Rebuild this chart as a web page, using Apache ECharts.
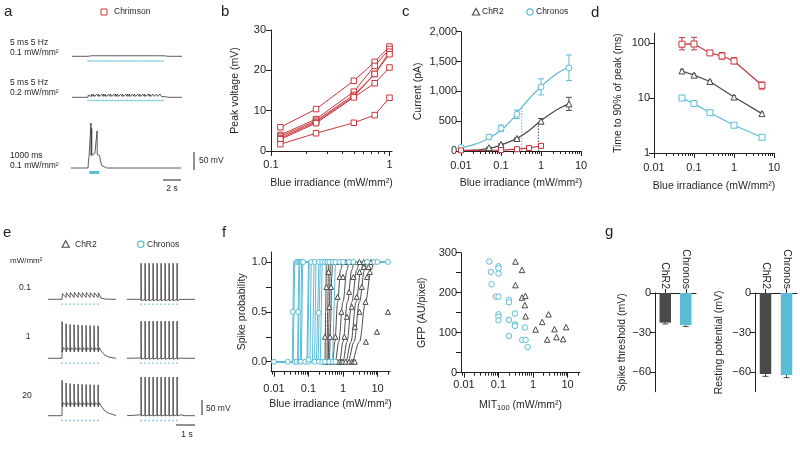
<!DOCTYPE html>
<html><head><meta charset="utf-8"><title>Chronos / ChR2 / Chrimson figure</title>
<script src="https://cdn.jsdelivr.net/npm/echarts@6/dist/echarts.min.js"></script>
<style>html,body{margin:0;padding:0;background:#fff;}#chart{width:800px;height:449px;}</style>
</head><body><div id="chart"></div>
<script>
/* ====================== DATA ====================== */
// ---- a : Chrimson current-clamp traces (mV) ----
const aRest = -65;
const aStimStart = 1.88;      // s, first 5-ms pulse
const aStimHz = 5;
const aTrain1Peaks = [4,5,6,6,5, 6,6,5,6,6, 6,5,6,6,5, 6,6,6,5,6, 6,5,6,6,6, 5,6,6,5,6, 6,5,6,6,5, 6,6,5,6,5, 6,5,6,5,5]; // 0.1 mW/mm2
const aTrain2Peaks = [6,8,9,9,8, 9,9,8,9,9, 9,8,9,9,8, 9,9,9,8,9, 9,8,9,9,9, 8,9,9,8,9, 9,8,9,9,8, 9,9,8,9,8, 9,8,9,8,8]; // 0.2 mW/mm2
const aTrain1Trough = 1.5, aTrain2Trough = 2.5;
const aLongTrace = [[0,-65],[2.0,-65],[2.05,-45],[2.12,-33],[2.3,-28],[2.33,-28],[2.34,60],[2.36,-30],[2.42,-30],[2.43,45],[2.45,-30],
  [2.6,-26],[2.8,-24],[3.0,-24],[3.05,-24],[3.06,38],[3.08,-28],[3.25,-26],[3.35,-30],[3.45,-45],[3.6,-58],[3.8,-63],[4.2,-65],[12.9,-65]];
const aLongStim = [2.15, 3.32];

// ---- b : peak voltage vs irradiance, Chrimson cells ----
const bIrr = [0.12, 0.24, 0.5, 0.75, 1.0];
const bCell1 = [5.9, 10.4, 17.4, 22.1, 25.9];
const bCell2 = [4.0, 7.9, 14.7, 21.1, 25.3];
const bCell3 = [3.6, 7.5, 13.9, 19.1, 24.6];
const bCell4 = [3.2, 7.2, 13.5, 19.1, 24.0];
const bCell5 = [2.9, 6.9, 13.3, 16.8, 20.7];
const bCell6 = [1.7, 4.4, 7.0, 8.9, 13.2];

// ---- c : photocurrent vs irradiance ----
const cChronosX = [0.01, 0.05, 0.1, 0.25, 1, 5];
const cChronosY = [60, 235, 380, 615, 1075, 1395];
const cChronosErr = [15, 35, 55, 70, 135, 215];
const cFitX = [0.01, 0.0178, 0.0316, 0.0562, 0.1, 0.178, 0.316, 0.562, 1, 1.78, 3.16, 5];
const cChronosFitY = [56, 95, 150, 235, 352, 510, 720, 910, 1078, 1225, 1340, 1400];
const cChR2X = [0.05, 0.1, 0.25, 1, 5];
const cChR2Y = [55, 110, 210, 500, 790];
const cChR2Err = [8, 10, 12, 45, 110];
const cChR2FitY = [6, 12, 25, 50, 100, 165, 250, 370, 510, 630, 730, 790];
const cChrimsonX = [0.01, 0.1, 0.25, 0.5, 1];
const cChrimsonY = [10, 15, 30, 50, 85];
const cChronosEC50 = [0.33, 732];
const cChR2EC50 = [0.86, 470];

// ---- d : time to 90% of peak ----
const dChrimsonX = [0.05, 0.1, 0.25, 0.5, 1, 5];
const dChrimsonY = [95, 96, 66, 58, 47, 17];
const dChrimsonLo = [75, 75, 62, 51, 42, 14.5];
const dChrimsonHi = [125, 127, 71, 67, 54, 19.5];
const dChR2X = [0.05, 0.1, 0.25, 1, 5];
const dChR2Y = [31, 26, 20, 10.4, 5.2];
const dChR2Lo = [29, 24.5, 19, 9.8, 4.9];
const dChR2Hi = [33, 27.5, 21, 11, 5.5];
const dChronosX = [0.05, 0.1, 0.25, 1, 5];
const dChronosY = [10, 7.9, 5.4, 3.2, 1.93];
const dChronosLo = [9.2, 7.0, 5.0, 3.0, 1.85];
const dChronosHi = [10.9, 8.8, 5.9, 3.4, 2.0];

// ---- e : ChR2 vs Chronos spike trains ----
const eRest = -65;
const ePulses = [0.7, 0.9, 1.1, 1.3, 1.5, 1.7, 1.9, 2.1, 2.3, 2.5];
const eChR2Low = [19, 22, 23, 23, 23, 22, 23, 22, 22, 22];           // EPSP amplitude (mV above rest), 0.1
const eChR2Mid = [57, 50, 48, 47, 46, 45, 45, 44, 44, 43];           // spike peaks (mV), 1
const eChR2High = [53, 44, 42, 41, 40, 40, 39, 39, 38, 38];          // 20
const eChronosLow = [55, 55, 55, 55, 55, 55, 55, 55, 55, 55];
const eChronosMid = [59, 59, 59, 59, 59, 59, 59, 59, 59, 59];
const eChronosHigh = [64, 64, 64, 64, 64, 64, 64, 64, 64, 64];

// ---- f (left) : spike probability fits ----
const fChronosSteps = [[0.034,0.037],[0.036,0.04],[0.048,0.053],[0.05,0.056],[0.058,0.063],[0.062,0.068],[0.09,0.1],
  [0.095,0.105],[0.11,0.12],[0.13,0.145],[0.15,0.165],[0.17,0.2],[0.19,0.22],[0.22,0.25],[0.5,0.6]];
const fChR2Curves = [
  [[0.25,0],[0.3,0],[0.315,0.5],[0.33,1],[0.6,1]],
  [[0.25,0],[0.34,0],[0.36,0.5],[0.38,1],[0.7,1]],
  [[0.25,0],[0.37,0],[0.4,0.5],[0.43,1],[0.8,1]],
  [[0.25,0],[0.4,0],[0.44,0.4],[0.47,0.85],[0.5,1],[1,1]],
  [[0.3,0],[0.5,0],[0.58,0.2],[0.7,0.6],[0.85,0.92],[1,1],[2,1]],
  [[0.4,0],[0.6,0],[0.75,0.2],[1.0,0.6],[1.3,0.92],[1.5,1],[3,1]],
  [[0.5,0],[0.8,0],[1.0,0.2],[1.35,0.6],[1.8,0.92],[2.1,1],[4,1]],
  [[0.6,0],[1.0,0],[1.3,0.2],[1.8,0.6],[2.5,0.92],[3,1],[5,1]],
  [[0.8,0],[1.2,0],[1.7,0.2],[2.4,0.6],[3.3,0.92],[4,1],[6,1]],
  [[1,0],[1.4,0],[2.1,0.2],[3.0,0.6],[4.2,0.92],[5,1],[8,1]],
  [[1.3,0],[1.8,0],[3.0,0.2],[4.5,0.6],[6.5,0.92],[8,1],[12,1]]
];
const fChronosPts = [[0.01,0],[0.025,0],[0.04,0],[0.045,0],[0.055,0],[0.06,0],[0.08,0],[0.1,0],[0.1,0.02],[0.15,0],[0.2,0],[0.25,0],
  [0.3,0],[0.4,0],[0.5,0],[0.6,0],[0.035,0.5],[0.05,0.5],[0.197,0.49],[0.045,1],[0.05,1],[0.055,1],[0.06,1],[0.065,1],[0.07,1],
  [0.12,1],[0.15,1],[0.2,1],[0.25,1],[0.3,1],[0.35,1],[0.4,1],[0.5,1],[0.6,1],[0.8,1],[1,1],[1.5,1],[2,1],[5,1],[8,1],[10,1],[20,1]];
const fChR2Pts = [[0.3,0],[0.35,0],[0.4,0],[0.45,0],[0.5,0],[0.6,0],[0.7,0],[0.8,0],[0.9,0],[1,0],[1.2,0],[1.5,0],[1.8,0],[2,0],[2.2,0],
  [0.3,0.25],[0.33,0.75],[0.38,0.9],[0.4,0.55],[0.42,0.25],[0.45,0.75],[0.6,0.25],[0.7,0.65],[0.8,0.85],[0.9,0.5],[1,0.85],[1.1,0.25],
  [1.3,0.45],[1.5,0.7],[1.8,0.55],[2,0.85],[2.2,0.35],[2.5,0.65],[3,0.9],[3,0.5],[3.5,0.75],[4,0.95],[4.5,0.6],[5,0.85],[5.5,0.95],
  [6,0.9],[6.5,1],[0.35,1],[0.4,1],[0.5,1],[0.6,1],[0.8,1],[1,1],[1.2,1],[1.5,1],[2,1],[3,1],[4,1],[5,1],[4.6,0.2],[9.6,0.3],[20,0.5]];

// ---- f (right) : GFP vs MIT100 ----
const fChronosMIT = [0.054,0.060,0.063,0.1,0.1,0.1,0.084,0.1,0.1,0.1,0.1,0.2,0.2,0.2,0.2,0.3,0.3,0.3,0.49,0.61,0.58,0.70];
const fChronosGFP = [278,252,221,266,261,248,190,190,146,140,131,182,176,132,92,148,121,117,82,82,113,64];
const fChR2MIT = [0.31,0.48,0.31,0.48,0.60,0.58,0.61,1.19,1.85,2.82,2.57,4.19,4.79,7.45,9.1];
const fChR2GFP = [278,257,219,188,192,169,141,108,127,146,83,109,89,84,114];

// ---- g : spike threshold & resting potential ----
const gGroups = ['ChR2', 'Chronos'];
const gThreshold = [-22.5, -24.3];
const gThresholdErr = [1.0, 1.2];
const gResting = [-61.5, -62.3];
const gRestingErr = [1.8, 2.0];

/* ====================== STYLE / LAYOUT ====================== */
const RED = '#c8363c', CYAN = '#5bbcd6', DARK = '#4a4a4a', INK = '#231f20', TRACE = '#333333';
const FONT = '"Liberation Sans", Arial, Helvetica, sans-serif';
const grid = [], xAxis = [], yAxis = [], series = [], graphic = [];

function merge(a, b) {
  const o = Object.assign({}, a);
  for (const k in b) {
    const v = b[k];
    if (v && typeof v === 'object' && !Array.isArray(v) && a[k] && typeof a[k] === 'object' && !Array.isArray(a[k])) o[k] = Object.assign({}, a[k], v);
    else o[k] = v;
  }
  return o;
}
const axisBase = {
  type: 'value',
  axisLine: { show: true, onZero: false, lineStyle: { color: INK, width: 1 } },
  axisTick: { show: true, length: 5, lineStyle: { color: INK, width: 1 } },
  axisLabel: { color: INK, fontSize: 11, fontFamily: FONT, margin: 5 },
  splitLine: { show: false },
  nameLocation: 'middle',
  nameTextStyle: { color: INK, fontSize: 10.5, fontFamily: FONT }
};
function logMinors(lo, hi) {
  const r = [];
  for (let e = -3; e <= 2; e++) for (let m = 2; m <= 9; m++) {
    const v = +(m * Math.pow(10, e)).toPrecision(3);
    if (v > lo && v < hi) r.push(v);
  }
  return r;
}
const fmtLog = v => { const n = +v; return n >= 1 ? String(Math.round(n)) : String(+n.toPrecision(2)); };
const fmtMinus = v => (+v < 0 ? '\u2212' + Math.abs(+v) : String(+v));
const fmtThousands = v => { const n = Math.round(+v); return n >= 1000 ? Math.floor(n / 1000) + ',' + String(n % 1000).padStart(3, '0') : String(n); };

function addPlot(box, xa, ya, xMinor) {
  const gi = grid.length;
  grid.push(Object.assign({ outerBoundsMode: 'none', containLabel: false }, box));
  const xi = xAxis.length;
  xAxis.push(merge(merge(axisBase, { gridIndex: gi, position: 'bottom' }), xa));
  if (xMinor) xAxis.push({ type: 'log', gridIndex: gi, position: 'bottom', min: xa.min, max: xa.max,
    axisLine: { show: false, onZero: false }, axisLabel: { show: false }, splitLine: { show: false },
    axisTick: { show: true, length: 3, customValues: xMinor, lineStyle: { color: INK, width: 1 } } });
  const yi = yAxis.length;
  yAxis.push(merge(merge(axisBase, { gridIndex: gi, position: 'left' }), ya));
  return { xi, yi };
}
function addTraceGrid(box, xr, yr) {
  const gi = grid.length;
  grid.push(Object.assign({ outerBoundsMode: 'none', containLabel: false }, box));
  const xi = xAxis.length; xAxis.push({ type: 'value', gridIndex: gi, min: xr[0], max: xr[1], show: false });
  const yi = yAxis.length; yAxis.push({ type: 'value', gridIndex: gi, min: yr[0], max: yr[1], show: false });
  return { xi, yi };
}
function lineS(ax, data, color, extra) {
  return Object.assign({ type: 'line', xAxisIndex: ax.xi, yAxisIndex: ax.yi, data, symbol: 'none', clip: false,
    lineStyle: { color, width: 1 }, silent: true }, extra || {});
}
function markS(ax, data, symbol, color, size, extra) {
  return Object.assign({ type: 'scatter', xAxisIndex: ax.xi, yAxisIndex: ax.yi, data, symbol, symbolSize: size || 5.5,
    itemStyle: { color: '#fff', borderColor: color, borderWidth: 1, opacity: 1 }, silent: true, z: 5 }, extra || {});
}
function errS(ax, data, color, cap) {   // data rows: [x, lo, hi]
  const w = cap == null ? 3 : cap;
  return { type: 'custom', xAxisIndex: ax.xi, yAxisIndex: ax.yi, data, silent: true, z: 4, clip: false,
    encode: { x: 0, y: [1, 2] },
    renderItem(params, api) {
      const x = api.value(0), p1 = api.coord([x, api.value(1)]), p2 = api.coord([x, api.value(2)]);
      const st = { stroke: color, lineWidth: 1 };
      return { type: 'group', children: [
        { type: 'line', shape: { x1: p1[0], y1: p1[1], x2: p2[0], y2: p2[1] }, style: st },
        { type: 'line', shape: { x1: p1[0] - w, y1: p1[1], x2: p1[0] + w, y2: p1[1] }, style: st },
        { type: 'line', shape: { x1: p2[0] - w, y1: p2[1], x2: p2[0] + w, y2: p2[1] }, style: st }] };
    } };
}
const zip = (xs, ys) => xs.map((x, i) => [x, ys[i]]);
const val = (a, i) => (Array.isArray(a) ? a[i] : a);

// trace builders (levels)
function epspTrain(pulses, peaks, trough, rest, tail, tEnd) {
  const d = [[0, rest]];
  pulses.forEach((p, i) => { d.push([p, i ? rest + trough : rest]); d.push([p + 0.02, rest + peaks[i]]); });
  const last = pulses[pulses.length - 1];
  tail.forEach(([dt, v]) => d.push([last + dt, rest + v]));
  d.push([tEnd, rest]);
  return d;
}
function spikeTrain(pulses, base, peaks, ahp, hump, rest, tail, tEnd) {
  const d = [[0, rest]];
  pulses.forEach((p, i) => {
    d.push([p, val(base, i)]); d.push([p + 0.005, peaks[i]]);
    d.push([p + 0.015, val(ahp, i)]); d.push([p + 0.07, val(hump, i)]);
  });
  const last = pulses[pulses.length - 1];
  tail.forEach(([dt, v]) => d.push([last + dt, v]));
  d.push([tEnd, rest]);
  return d;
}

/* ---------- panel a ---------- */
const aX = [0, 12.9], aY = [-100, 70];
const aPulses1 = aTrain1Peaks.map((_, i) => aStimStart + i / aStimHz);
const aPulses2 = aTrain2Peaks.map((_, i) => aStimStart + i / aStimHz);
const A1 = addTraceGrid({ left: 72, top: 7.7, width: 110, height: 61.2 }, aX, aY);
const A2 = addTraceGrid({ left: 72, top: 48.7, width: 110, height: 61.2 }, aX, aY);
const A3 = addTraceGrid({ left: 71, top: 119.4, width: 110, height: 61.2 }, aX, aY);
series.push(lineS(A1, epspTrain(aPulses1, aTrain1Peaks, aTrain1Trough, aRest, [[0.3, 1], [0.6, 0]], aX[1]), TRACE, { lineStyle: { color: TRACE, width: 0.8 } }));
series.push(lineS(A2, epspTrain(aPulses2, aTrain2Peaks, aTrain2Trough, aRest, [[0.3, 1.5], [0.6, 0]], aX[1]), TRACE, { lineStyle: { color: TRACE, width: 0.8 } }));
series.push(lineS(A3, aLongTrace, TRACE, { lineStyle: { color: TRACE, width: 0.8 } }));
series.push({ type: 'scatter', xAxisIndex: A1.xi, yAxisIndex: A1.yi, data: aPulses1.map(t => [t, -78]), symbol: 'rect', symbolSize: [1.4, 1.4], itemStyle: { color: CYAN }, silent: true });
series.push({ type: 'scatter', xAxisIndex: A2.xi, yAxisIndex: A2.yi, data: aPulses2.map(t => [t, -74]), symbol: 'rect', symbolSize: [1.4, 1.4], itemStyle: { color: CYAN }, silent: true });
series.push(lineS(A3, aLongStim.map(t => [t, -77.5]), CYAN, { lineStyle: { color: CYAN, width: 3 } }));

/* ---------- panel b ---------- */
const B = addPlot({ left: 271, top: 30, width: 121, height: 121 },
  { type: 'log', min: 0.1, max: 1.05, axisTick: { customValues: [0.1, 1] }, axisLabel: { customValues: [0.1, 1], formatter: fmtLog, margin: 8 },
    name: 'Blue irradiance (mW/mm\u00b2)', nameGap: 27 },
  { min: 0, max: 30, interval: 10, name: 'Peak voltage (mV)', nameGap: 30 },
  logMinors(0.1, 1.05));
[bCell1, bCell2, bCell3, bCell4, bCell5, bCell6].forEach(c => {
  series.push(lineS(B, zip(bIrr, c), RED, { symbol: 'rect', symbolSize: 5.5, showSymbol: true,
    itemStyle: { color: '#fff', borderColor: RED, borderWidth: 1 }, lineStyle: { color: RED, width: 1 } }));
});

/* ---------- panel c ---------- */
const C = addPlot({ left: 461, top: 31.7, width: 120, height: 119.3 },
  { type: 'log', min: 0.01, max: 10, axisTick: { customValues: [0.01, 0.1, 1, 10] }, axisLabel: { customValues: [0.01, 0.1, 1, 10], formatter: fmtLog, margin: 9 },
    name: 'Blue irradiance (mW/mm\u00b2)', nameGap: 27 },
  { min: 0, max: 2000, interval: 500, axisLabel: { formatter: fmtThousands, margin: 4 }, name: 'Current (pA)', nameGap: 37 },
  logMinors(0.01, 10));
series.push(lineS(C, [[cChronosEC50[0], 0], cChronosEC50], CYAN, { lineStyle: { color: CYAN, width: 1, type: [1.5, 1.5] } }));
series.push(lineS(C, [[cChR2EC50[0], 0], cChR2EC50], DARK, { lineStyle: { color: DARK, width: 1, type: [1.5, 1.5] } }));
series.push(lineS(C, zip(cFitX, cChronosFitY), CYAN, { smooth: 0.5, lineStyle: { color: CYAN, width: 1.2 } }));
series.push(lineS(C, zip(cFitX, cChR2FitY), DARK, { smooth: 0.5, lineStyle: { color: DARK, width: 1.2 } }));
series.push(lineS(C, zip(cChrimsonX, cChrimsonY), RED, { lineStyle: { color: RED, width: 1.2 } }));
series.push(errS(C, cChronosX.map((x, i) => [x, cChronosY[i] - cChronosErr[i], cChronosY[i] + cChronosErr[i]]), CYAN));
series.push(errS(C, cChR2X.map((x, i) => [x, cChR2Y[i] - cChR2Err[i], cChR2Y[i] + cChR2Err[i]]), DARK));
series.push(markS(C, zip(cChronosX, cChronosY), 'circle', CYAN, 6));
series.push(markS(C, zip(cChR2X, cChR2Y), 'triangle', DARK, 6));
series.push(markS(C, zip(cChrimsonX, cChrimsonY), 'rect', RED, 5));

/* ---------- panel d ---------- */
const D = addPlot({ left: 654, top: 33.3, width: 120, height: 119.7 },
  { type: 'log', min: 0.01, max: 10, axisTick: { customValues: [0.01, 0.1, 1, 10] }, axisLabel: { customValues: [0.01, 0.1, 1, 10], formatter: fmtLog, margin: 9 },
    name: 'Blue irradiance (mW/mm\u00b2)', nameGap: 28 },
  { type: 'log', min: 1, max: 150, axisTick: { customValues: [1, 10, 100] }, axisLabel: { customValues: [1, 10, 100], formatter: fmtLog, margin: 4 },
    name: 'Time to 90% of peak (ms)', nameGap: 30 },
  logMinors(0.01, 10));
series.push(lineS(D, zip(dChrimsonX, dChrimsonY), RED, { lineStyle: { color: RED, width: 1.2 } }));
series.push(lineS(D, zip(dChR2X, dChR2Y), DARK, { lineStyle: { color: DARK, width: 1.2 } }));
series.push(lineS(D, zip(dChronosX, dChronosY), CYAN, { lineStyle: { color: CYAN, width: 1.2 } }));
series.push(errS(D, dChrimsonX.map((x, i) => [x, dChrimsonLo[i], dChrimsonHi[i]]), RED));
series.push(errS(D, dChR2X.map((x, i) => [x, dChR2Lo[i], dChR2Hi[i]]), DARK, 2));
series.push(errS(D, dChronosX.map((x, i) => [x, dChronosLo[i], dChronosHi[i]]), CYAN, 2));
series.push(markS(D, zip(dChrimsonX, dChrimsonY), 'rect', RED, 6));
series.push(markS(D, zip(dChR2X, dChR2Y), 'triangle', DARK, 6));
series.push(markS(D, zip(dChronosX, dChronosY), 'rect', CYAN, 6));

/* ---------- panel e ---------- */
const eX = [0, 3.4], eY = [-100, 75];
const eBoxes = [257.3, 316.3, 373.7];
const E = eBoxes.map(top => [48, 127].map(l => addTraceGrid({ left: l, top, width: 68, height: 52.5 }, eX, eY)));
const eTr = { lineStyle: { color: TRACE, width: 0.8 } };
series.push(lineS(E[0][0], epspTrain(ePulses, eChR2Low, 6, eRest, [[0.15, 4], [0.4, 0.5]], eX[1]), TRACE, eTr));
series.push(lineS(E[1][0], spikeTrain(ePulses, [-65, -38, -38, -38, -38, -38, -38, -38, -38, -38], eChR2Mid, -44, -30, eRest,
  [[0.15, -40], [0.3, -52], [0.5, -60], [0.8, -64]], eX[1]), TRACE, eTr));
series.push(lineS(E[2][0], spikeTrain(ePulses, [-65, -30, -30, -30, -30, -30, -30, -30, -30, -30], eChR2High, -36, -22, eRest,
  [[0.15, -32], [0.3, -46], [0.5, -56], [0.8, -62]], eX[1]), TRACE, eTr));
series.push(lineS(E[0][1], spikeTrain(ePulses, -65, eChronosLow, -70, -64, eRest, [[0.15, -65.5]], eX[1]), TRACE, eTr));
series.push(lineS(E[1][1], spikeTrain(ePulses, -64, eChronosMid, -68, -62, eRest, [[0.15, -64], [0.3, -65]], eX[1]), TRACE, eTr));
series.push(lineS(E[2][1], spikeTrain(ePulses, -62, eChronosHigh, -66, -60, eRest, [[0.15, -62], [0.4, -65]], eX[1]), TRACE, eTr));
E.forEach(row => row.forEach(ax => series.push({ type: 'scatter', xAxisIndex: ax.xi, yAxisIndex: ax.yi, data: ePulses.map(t => [t, -81]),
  symbol: 'rect', symbolSize: [1.8, 1.4], itemStyle: { color: CYAN }, silent: true })));

/* ---------- panel f (left) ---------- */
const F1 = addPlot({ left: 271, top: 252, width: 119, height: 119.7 },
  { type: 'log', min: 0.0082, max: 23, axisTick: { customValues: [0.01, 0.1, 1, 10] }, axisLabel: { customValues: [0.01, 0.1, 1, 10], formatter: fmtLog, margin: 12 },
    name: 'Blue irradiance (mW/mm\u00b2)', nameGap: 27 },
  { min: -0.1, max: 1.1, axisTick: { customValues: [0, 0.25, 0.5, 0.75, 1] }, axisLabel: { customValues: [0, 0.5, 1], formatter: v => (+v).toFixed(1), margin: 4 },
    name: 'Spike probability', nameGap: 23 },
  logMinors(0.0082, 23));
fChR2Curves.forEach(pts => series.push(lineS(F1, pts, DARK, { smooth: 0.35, smoothMonotone: 'x', lineStyle: { color: DARK, width: 1 }, z: 2 })));
fChronosSteps.forEach(([x0, x1]) => series.push(lineS(F1, [[0.0085, 0], [x0, 0], [x1, 1], [22, 1]], CYAN, { lineStyle: { color: CYAN, width: 1 }, z: 3 })));
series.push(markS(F1, fChR2Pts, 'triangle', DARK, 5));
series.push(markS(F1, fChronosPts, 'circle', CYAN, 5));

/* ---------- panel f (right) ---------- */
const F2 = addPlot({ left: 461, top: 252.7, width: 119, height: 120 },
  { type: 'log', min: 0.0082, max: 23, axisTick: { customValues: [0.01, 0.1, 1, 10] }, axisLabel: { customValues: [0.01, 0.1, 1, 10], formatter: fmtLog, margin: 7 },
    name: '{t|MIT}{s|100}{t| (mW/mm\u00b2)}', nameGap: 26,
    nameTextStyle: { rich: { t: { fontSize: 10.5, color: INK, fontFamily: FONT }, s: { fontSize: 7.5, color: INK, fontFamily: FONT, padding: [5, 0, 0, 0] } } } },
  { min: 0, max: 300, axisTick: { customValues: [0, 50, 100, 150, 200, 250, 300] }, axisLabel: { customValues: [0, 100, 200, 300], margin: 4 },
    name: 'GFP (AU/pixel)', nameGap: 33 },
  logMinors(0.0082, 23));
series.push(markS(F2, zip(fChR2MIT, fChR2GFP), 'triangle', DARK, 5.5));
series.push(markS(F2, zip(fChronosMIT, fChronosGFP), 'circle', CYAN, 5.5));

/* ---------- panel g ---------- */
function barPanel(box, values, errs, title, gap) {
  const ax = addPlot(box,
    { type: 'category', data: gGroups, position: 'top', axisTick: { alignWithLabel: true, length: 4 },
      axisLabel: { rotate: 90, margin: 4, fontSize: 10.5 } },
    { min: -75, max: 0, axisTick: { customValues: [0, -30, -60] }, axisLabel: { customValues: [0, -30, -60], formatter: fmtMinus, margin: 4 },
      name: title, nameGap: gap });
  series.push(errS(ax, values.map((v, i) => [i, v - errs[i], v + errs[i]]), DARK, 3));
  series.push({ type: 'bar', xAxisIndex: ax.xi, yAxisIndex: ax.yi, data: values, barWidth: 11.5, silent: true, z: 5,
    itemStyle: { color: p => [DARK, CYAN][p.dataIndex] } });
}
barPanel({ left: 655, top: 293, width: 41, height: 98.75 }, gThreshold, gThresholdErr, 'Spike threshold (mV)', 27);
barPanel({ left: 755, top: 293, width: 42, height: 98.75 }, gResting, gRestingErr, 'Resting potential (mV)', 30);

/* ---------- text, legends, scale bars ---------- */
function txt(x, y, s, size, align, va, extra) {
  graphic.push({ type: 'text', x, y, silent: true, style: Object.assign({ text: s, fontSize: size, fontFamily: FONT, fill: INK,
    align: align || 'left', verticalAlign: va || 'middle' }, extra || {}) });
}
function seg(x1, y1, x2, y2, color, w) {
  graphic.push({ type: 'line', silent: true, shape: { x1, y1, x2, y2 }, style: { stroke: color || INK, lineWidth: w || 1 } });
}
function legRect(cx, cy, color) { graphic.push({ type: 'rect', silent: true, shape: { x: cx - 3, y: cy - 3, width: 6, height: 6 }, style: { fill: '#fff', stroke: color, lineWidth: 1 } }); }
function legCirc(cx, cy, color) { graphic.push({ type: 'circle', silent: true, shape: { cx, cy, r: 3.2 }, style: { fill: '#fff', stroke: color, lineWidth: 1.2 } }); }
function legTri(cx, cy, color) { graphic.push({ type: 'polygon', silent: true, shape: { points: [[cx, cy - 3.6], [cx + 3.6, cy + 3], [cx - 3.6, cy + 3]] }, style: { fill: '#fff', stroke: color, lineWidth: 1.1 } }); }

// panel letters
[['a', 4, 19], ['b', 221, 19], ['c', 402, 19], ['d', 591, 20], ['e', 3, 240], ['f', 222, 240], ['g', 605, 239]]
  .forEach(([s, x, y]) => txt(x, y, s, 15, 'left', 'bottom'));
// a
legRect(104, 12, RED); txt(114, 12, 'Chrimson', 8.5);
txt(10, 43, '5 ms 5 Hz', 8.5); txt(10, 53, '0.1 mW/mm\u00b2', 8.5);
txt(10, 83, '5 ms 5 Hz', 8.5); txt(10, 92.5, '0.2 mW/mm\u00b2', 8.5);
txt(10, 156, '1000 ms', 8.5); txt(10, 165.5, '0.1 mW/mm\u00b2', 8.5);
seg(194, 152, 194, 170); txt(199, 161, '50 mV', 8.5);
seg(163, 180, 181, 180); txt(172, 188.5, '2 s', 8.5, 'center');
// c legend
legTri(476, 12, DARK); txt(482, 12, 'ChR2', 8.5);
legCirc(530, 12, CYAN); txt(536, 12, 'Chronos', 8.5);
// e
legTri(65.7, 244.3, DARK); txt(75, 244.3, 'ChR2', 8.5);
legCirc(140.7, 244.3, CYAN); txt(147, 244.3, 'Chronos', 8.5);
txt(10, 261, 'mW/mm\u00b2', 8);
txt(25, 288, '0.1', 8.5, 'center'); txt(28, 337, '1', 8.5, 'center'); txt(27, 396, '20', 8.5, 'center');
seg(202, 400, 202, 415); txt(206, 409, '50 mV', 8.5);
seg(176, 425, 195, 425); txt(187, 434.5, '1 s', 8.5, 'center');

const option = { animation: false, backgroundColor: '#fff', textStyle: { fontFamily: FONT }, grid, xAxis, yAxis, series, graphic };
const chart = echarts.init(document.getElementById('chart'), null, { renderer: 'canvas' });
chart.setOption(option);
</script>
</body></html>
